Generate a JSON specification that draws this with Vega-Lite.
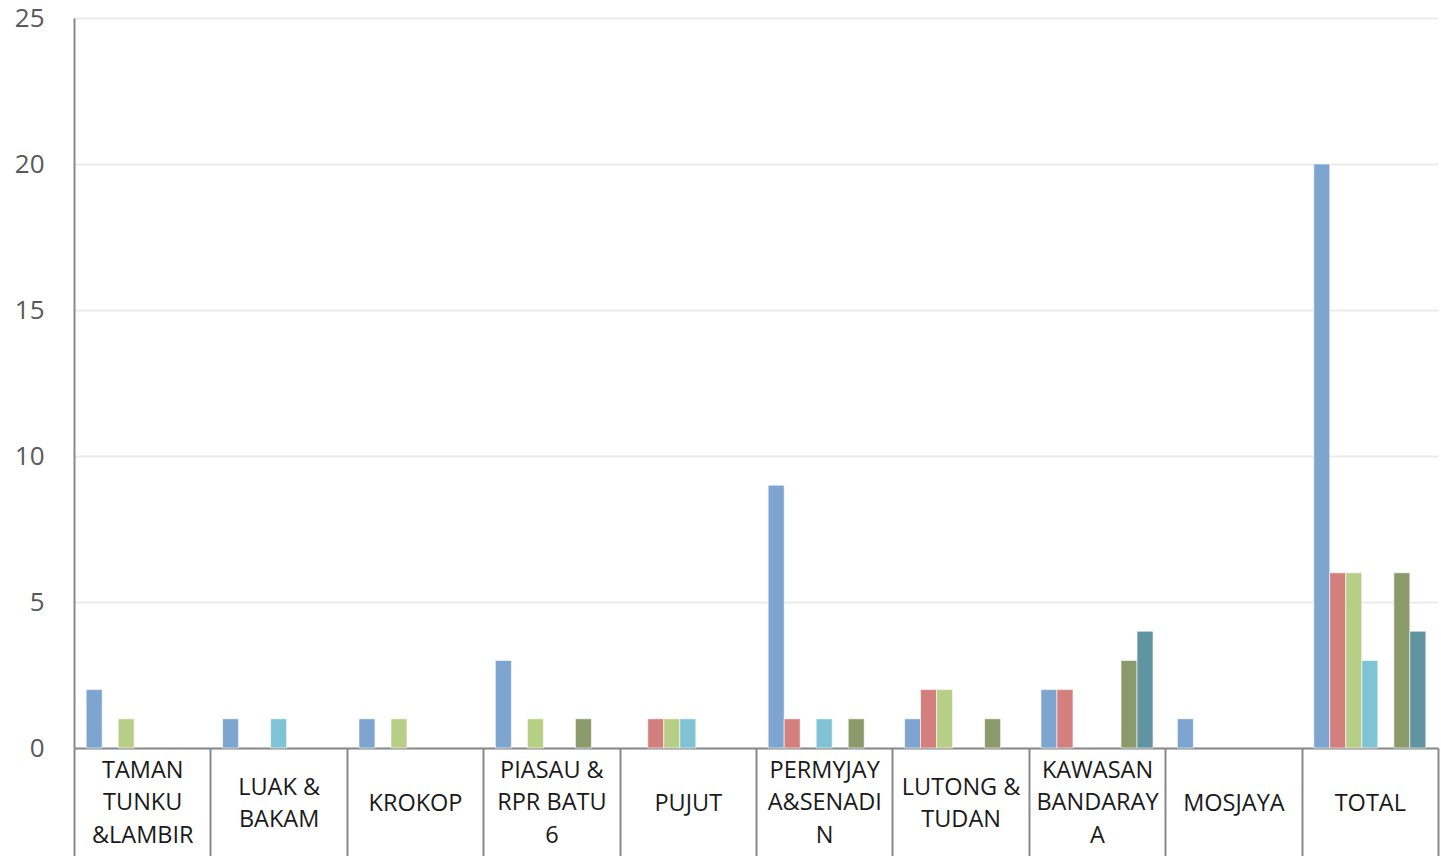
{
  "$schema": "https://vega.github.io/schema/vega-lite/v6.json",
  "width": 1364,
  "height": 730,
  "autosize": {"type": "none"},
  "padding": {"left": 74, "top": 18, "right": 3, "bottom": 108},
  "background": "white",
  "config": {"view": {"stroke": null}, "font": "Open Sans"},
  "data": {
    "values": [
      {"area": "TAMAN|TUNKU|&LAMBIR", "series": "S1", "value": 2},
      {"area": "TAMAN|TUNKU|&LAMBIR", "series": "S3", "value": 1},
      {"area": "LUAK &|BAKAM", "series": "S1", "value": 1},
      {"area": "LUAK &|BAKAM", "series": "S4", "value": 1},
      {"area": "KROKOP", "series": "S1", "value": 1},
      {"area": "KROKOP", "series": "S3", "value": 1},
      {"area": "PIASAU &|RPR BATU|6", "series": "S1", "value": 3},
      {"area": "PIASAU &|RPR BATU|6", "series": "S3", "value": 1},
      {"area": "PIASAU &|RPR BATU|6", "series": "S6", "value": 1},
      {"area": "PUJUT", "series": "S2", "value": 1},
      {"area": "PUJUT", "series": "S3", "value": 1},
      {"area": "PUJUT", "series": "S4", "value": 1},
      {"area": "PERMYJAY|A&SENADI|N", "series": "S1", "value": 9},
      {"area": "PERMYJAY|A&SENADI|N", "series": "S2", "value": 1},
      {"area": "PERMYJAY|A&SENADI|N", "series": "S4", "value": 1},
      {"area": "PERMYJAY|A&SENADI|N", "series": "S6", "value": 1},
      {"area": "LUTONG &|TUDAN", "series": "S1", "value": 1},
      {"area": "LUTONG &|TUDAN", "series": "S2", "value": 2},
      {"area": "LUTONG &|TUDAN", "series": "S3", "value": 2},
      {"area": "LUTONG &|TUDAN", "series": "S6", "value": 1},
      {"area": "KAWASAN|BANDARAY|A", "series": "S1", "value": 2},
      {"area": "KAWASAN|BANDARAY|A", "series": "S2", "value": 2},
      {"area": "KAWASAN|BANDARAY|A", "series": "S6", "value": 3},
      {"area": "KAWASAN|BANDARAY|A", "series": "S7", "value": 4},
      {"area": "MOSJAYA", "series": "S1", "value": 1},
      {"area": "TOTAL", "series": "S1", "value": 20},
      {"area": "TOTAL", "series": "S2", "value": 6},
      {"area": "TOTAL", "series": "S3", "value": 6},
      {"area": "TOTAL", "series": "S4", "value": 3},
      {"area": "TOTAL", "series": "S6", "value": 6},
      {"area": "TOTAL", "series": "S7", "value": 4}
    ]
  },
  "mark": {"type": "bar", "stroke": "white", "strokeWidth": 1, "strokeOpacity": 0.6},
  "encoding": {
    "x": {
      "field": "area",
      "type": "nominal",
      "sort": null,
      "scale": {"paddingInner": 0, "paddingOuter": 0},
      "axis": {
        "title": null,
        "labelAngle": 0,
        "labelExpr": "split(datum.label, '|')",
        "labelFont": "Open Sans",
        "labelFontSize": 23.5,
        "labelColor": "#1a1a1a",
        "labelLineHeight": 32.5,
        "labelBaseline": "middle",
        "labelPadding": {
          "condition": [
            {"test": "length(split(datum.value, '|')) == 3", "value": -98},
            {"test": "length(split(datum.value, '|')) == 2", "value": -81}
          ],
          "value": -65
        },
        "labelOverlap": false,
        "labelBound": false,
        "labelFlush": false,
        "tickBand": "extent",
        "tickSize": 120,
        "tickColor": "#898989",
        "tickWidth": 2,
        "domainColor": "#898989",
        "domainWidth": 2,
        "grid": false
      }
    },
    "xOffset": {
      "field": "series",
      "type": "nominal",
      "scale": {"domain": ["S1", "S2", "S3", "S4", "S5", "S6", "S7"], "paddingInner": 0, "paddingOuter": 0.76}
    },
    "y": {
      "field": "value",
      "type": "quantitative",
      "scale": {"domain": [0, 25]},
      "axis": {
        "title": null,
        "values": [0, 5, 10, 15, 20, 25],
        "ticks": false,
        "labelPadding": 30,
        "labelFont": "Open Sans",
        "labelFontSize": 26,
        "labelColor": "#595959",
        "gridColor": "#EBEBEB",
        "gridWidth": 2,
        "domainColor": "#898989",
        "domainWidth": 2
      }
    },
    "color": {
      "field": "series",
      "type": "nominal",
      "legend": null,
      "scale": {
        "domain": ["S1", "S2", "S3", "S4", "S5", "S6", "S7"],
        "range": ["#7EA5D0", "#D27F7D", "#B7CE87", "#80C3D5", "#A08CBA", "#8A9A6A", "#6094A1"]
      }
    }
  }
}
